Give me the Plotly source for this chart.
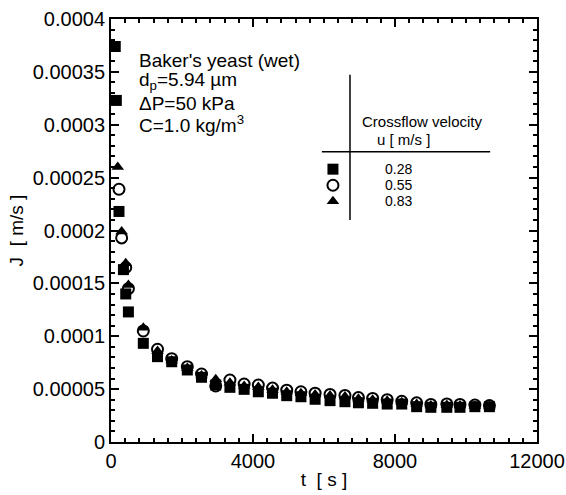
import plotly.graph_objects as go

# --- data ---
t_sq = [120, 150, 225, 350, 415, 490, 910, 1310, 1710, 2150, 2550, 2950, 3350, 3750,
        4150, 4550, 4950, 5350, 5750, 6170, 6590, 6970, 7370, 7780, 8190, 8610, 9010,
        9460, 9830, 10250, 10660]
J_sq = [0.000374, 0.000323, 0.000218, 0.000163, 0.000140, 0.000123, 0.0000933, 0.0000807,
        0.0000759, 0.0000681, 0.0000612, 0.0000539, 0.0000517, 0.0000498, 0.0000475,
        0.0000461, 0.0000438, 0.0000428, 0.0000404, 0.0000391, 0.0000381, 0.0000371,
        0.0000366, 0.0000359, 0.0000359, 0.0000334, 0.0000328, 0.0000328, 0.0000328,
        0.0000334, 0.0000334]

t_ci = [225, 300, 415, 490, 910, 1310, 1710, 2150, 2550, 2950, 3350, 3750, 4150, 4550,
        4950, 5350, 5750, 6170, 6590, 6970, 7370, 7780, 8190, 8610, 9010, 9460, 9830,
        10250, 10660]
J_ci = [0.000239, 0.000193, 0.000165, 0.000145, 0.000105, 0.0000877, 0.0000788, 0.0000712,
        0.0000643, 0.0000530, 0.0000586, 0.0000548, 0.0000539, 0.0000510, 0.0000490,
        0.0000475, 0.0000462, 0.0000450, 0.0000440, 0.0000420, 0.0000412, 0.0000400,
        0.0000385, 0.0000370, 0.0000355, 0.0000360, 0.0000355, 0.0000350, 0.0000345]

t_tr = [190, 300, 415, 490, 910, 1310, 1710, 2150, 2550, 2950, 3350, 3750, 4150, 4550,
        4950, 5350, 5750, 6170, 6590, 6970, 7370, 7780, 8190, 8610, 9010, 9460, 9830,
        10250, 10660]
J_tr = [0.000260, 0.000199, 0.000169, 0.0001485, 0.000108, 0.0000860, 0.0000770, 0.0000700,
        0.0000630, 0.0000593, 0.0000560, 0.0000530, 0.0000520, 0.0000495, 0.0000475,
        0.0000460, 0.0000450, 0.0000440, 0.0000430, 0.0000410, 0.0000400, 0.0000390,
        0.0000375, 0.0000360, 0.0000345, 0.0000350, 0.0000345, 0.0000340, 0.0000335]

velocities = ["0.28", "0.55", "0.83"]
x_ticks = [0, 4000, 8000, 12000]
y_ticks = [0, 0.00005, 0.0001, 0.00015, 0.0002, 0.00025, 0.0003, 0.00035, 0.0004]
y_tick_text = ["0", "0.00005", "0.0001", "0.00015", "0.0002", "0.00025", "0.0003",
               "0.00035", "0.0004"]

FONT = "Liberation Sans, Arial, Helvetica, sans-serif"
MS = 11

sq_marker = dict(symbol="square", size=MS, color="black")
ci_marker = dict(symbol="circle-open", size=MS, color="black", line=dict(width=2, color="black"))
tr_marker = dict(symbol="triangle-up", size=MS, color="black")

fig = go.Figure()
fig.add_trace(go.Scatter(x=t_sq, y=J_sq, mode="markers", marker=sq_marker, showlegend=False))
fig.add_trace(go.Scatter(x=t_ci, y=J_ci, mode="markers", marker=ci_marker, showlegend=False))
fig.add_trace(go.Scatter(x=t_tr, y=J_tr, mode="markers", marker=tr_marker, showlegend=False))

# legend-table markers on an overlay axis in plot-fraction units
leg_y = [0.645, 0.607, 0.569]
leg_x = 0.521
for m, yy in zip([sq_marker, ci_marker, tr_marker], leg_y):
    fig.add_trace(go.Scatter(x=[leg_x], y=[yy], mode="markers", marker=m, showlegend=False,
                             xaxis="x2", yaxis="y2", hoverinfo="skip"))

axis_common = dict(
    showline=True, linewidth=2, linecolor="black", mirror="allticks",
    ticks="inside", ticklen=8, tickwidth=2, tickcolor="black",
    showgrid=False, zeroline=False, automargin=False,
    tickfont=dict(family=FONT, size=20, color="black"),
)

fig.update_layout(
    width=566, height=495,
    margin=dict(l=111, r=29, t=19, b=53),
    paper_bgcolor="white", plot_bgcolor="white",
    font=dict(family=FONT, color="black"),
    xaxis=dict(range=[0, 12000], tickvals=x_ticks, ticktext=[str(v) for v in x_ticks],
               minor=dict(dtick=400, ticks="inside", ticklen=4, tickwidth=1.5, tickcolor="black"),
               title=dict(text="t  [ s ]", font=dict(family=FONT, size=19), standoff=2),
               **axis_common),
    yaxis=dict(range=[0, 0.0004], tickvals=y_ticks, ticktext=y_tick_text,
               minor=dict(dtick=0.00001, ticks="inside", ticklen=4, tickwidth=1.5, tickcolor="black"),
               title=dict(text="J  [ m/s ]", font=dict(family=FONT, size=19), standoff=4),
               **axis_common),
    xaxis2=dict(range=[0, 1], overlaying="x", visible=False, fixedrange=True),
    yaxis2=dict(range=[0, 1], overlaying="y", visible=False, fixedrange=True),
)

# text block
lines = ["Baker's yeast (wet)", "d<sub>p</sub>=5.94 µm", "ΔP=50 kPa", "C=1.0 kg/m<sup>3</sup>"]
ys = [0.903, 0.853, 0.801, 0.752]
for txt, yy in zip(lines, ys):
    fig.add_annotation(xref="paper", yref="paper", x=0.061, y=yy, text=txt, showarrow=False,
                       xanchor="left", yanchor="middle", font=dict(family=FONT, size=19))

# legend table
fig.add_shape(type="line", xref="paper", yref="paper", x0=0.561, x1=0.561, y0=0.525, y1=0.868,
              line=dict(color="black", width=1.5))
fig.add_shape(type="line", xref="paper", yref="paper", x0=0.495, x1=0.890, y0=0.686, y1=0.686,
              line=dict(color="black", width=1.5))
fig.add_annotation(xref="paper", yref="paper", x=0.731, y=0.757, text="Crossflow velocity",
                   showarrow=False, xanchor="center", yanchor="middle", font=dict(family=FONT, size=15))
fig.add_annotation(xref="paper", yref="paper", x=0.686, y=0.716, text="u [ m/s ]",
                   showarrow=False, xanchor="center", yanchor="middle", font=dict(family=FONT, size=15))
for v, yy in zip(velocities, leg_y):
    fig.add_annotation(xref="paper", yref="paper", x=0.674, y=yy, text=v, showarrow=False,
                       xanchor="center", yanchor="middle", font=dict(family=FONT, size=14))

fig.write_html("out.html")
